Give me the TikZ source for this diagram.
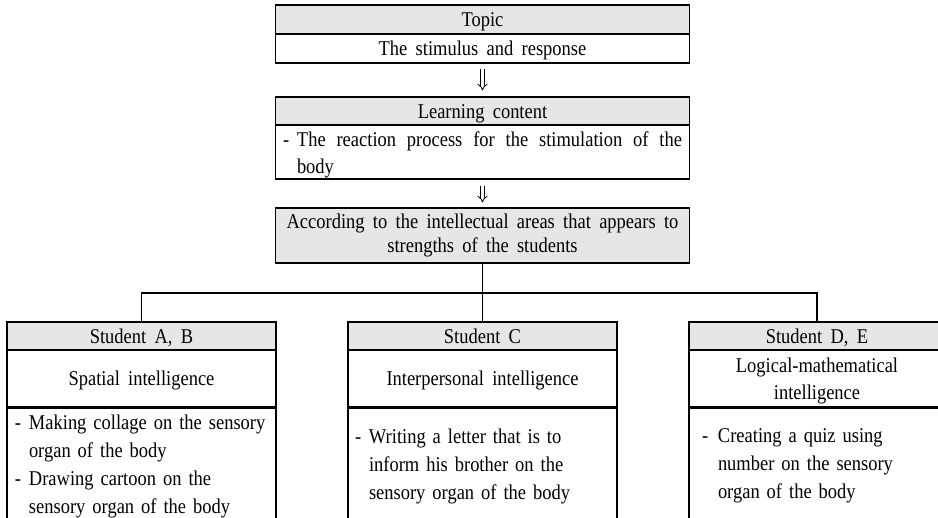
\documentclass[tikz,border=0pt]{standalone}
\usepackage{fontspec}
\setmainfont{Liberation Serif}[WordSpace=1.8, FakeStretch=0.88]
\usepackage{xcolor}
\usetikzlibrary{arrows.meta,positioning}
\definecolor{headgray}{RGB}{230,230,230}
\newcommand{\itemdash}[1][14pt]{\makebox[#1][l]{-}}
\newcommand{\itemgap}[1][14pt]{\hspace*{#1}}
\tikzset{
  cell/.style={draw, line width=1.1pt, inner sep=0pt, minimum width=#1},
  head/.style={cell=#1, fill=headgray},
  oneline/.style={text height=15pt, text depth=0pt},
  dbl/.style={double, double distance=2.6pt, line width=0.8pt, -{Implies[length=5pt, width=11pt]}},
}

\begin{document}
\begin{tikzpicture}[x=1pt, y=-1pt, font=\fontsize{21pt}{27pt}\selectfont]
    \useasboundingbox (0,0) rectangle (938,518);
    \clip (0,0) rectangle (938,518);

    \node[head=414pt, oneline, minimum height=29pt] (topic) at (482.5,19.5) {Topic};
    \node[cell=414pt, oneline, minimum height=29pt] (theme) at (482.5,48.5) {The stimulus and response};
    \node[head=414pt, oneline, minimum height=28pt] (learnhead) at (482.5,111) {Learning content};
    \node[cell=414pt, minimum height=54pt, text width=399pt, align=justify] (learn) at (482.5,152)
        {\rule{0pt}{20pt}\itemdash The reaction process for the stimulation of the\linebreak \itemgap body};
    \node[head=414pt, minimum height=55pt, align=center, font=\fontsize{21pt}{24pt}\selectfont] (accord) at (482.5,235.5)
        {According to the intellectual areas that appears to\\strengths of the students};

    \draw[dbl, shorten <=5pt, shorten >=6pt] (theme) -- (learnhead);
    \draw[dbl, shorten <=6pt, shorten >=5pt] (learn) -- (accord);

    \node[head=269pt, oneline, minimum height=28pt] (headA) at (141.5,336) {Student A, B};
    \node[cell=269pt, oneline, minimum height=57pt] (areaA) at (141.5,378.5) {Spatial intelligence};
    \node[cell=269pt, minimum height=116pt, text width=253pt, align=left, font=\fontsize{21pt}{28pt}\selectfont] (actA) at (141.5,466)
        {\itemdash Making collage on the sensory\\ \itemgap organ of the body\\ \itemdash Drawing cartoon on the\\ \itemgap sensory organ of the body};

    \node[head=269pt, oneline, minimum height=28pt] (headC) at (482.5,336) {Student C};
    \node[cell=269pt, oneline, minimum height=57pt] (areaC) at (482.5,378.5) {Interpersonal intelligence};
    \node[cell=269pt, minimum height=116pt, text width=255pt, align=left, font=\fontsize{21pt}{28pt}\selectfont] (actC) at (482.5,466)
        {\itemdash Writing a letter that is to\\ \itemgap inform his brother on the\\ \itemgap sensory organ of the body};

    \node[head=256pt, oneline, minimum height=28pt] (headDE) at (817,336) {Student D, E};
    \node[cell=256pt, minimum height=57pt, text depth=0pt, align=center] (areaDE) at (817,378.5) {Logical-mathematical\\intelligence};
    \node[cell=256pt, minimum height=116pt, text width=230pt, align=left, font=\fontsize{21pt}{28pt}\selectfont] (actDE) at (817,466)
        {\itemdash[9pt] Creating a quiz using\\ \itemgap[9pt] number on the sensory\\ \itemgap[9pt] organ of the body};

    \coordinate (hub) at (482.5,293);
    \draw[line width=1.1pt] (accord.south) -- (headC.north);
    \draw[line width=1.1pt] (headA.north) |- (hub) -| (headDE.north);
\end{tikzpicture}
\end{document}
